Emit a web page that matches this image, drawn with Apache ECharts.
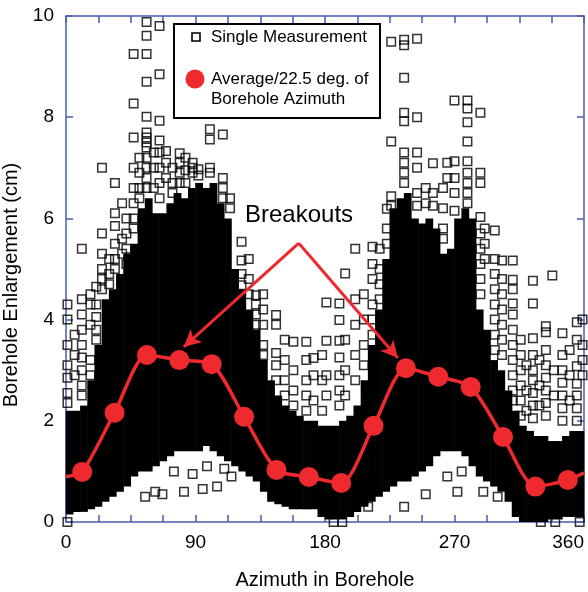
<!DOCTYPE html>
<html>
<head>
<meta charset="utf-8">
<script src="https://cdn.jsdelivr.net/npm/echarts@6/dist/echarts.min.js"></script>
<style>
html, body { margin: 0; padding: 0; background: #fff; }
#chart { width: 588px; height: 592px; }
</style>
</head>
<body>
<div id="chart"></div>
<script>
// dense part of the measurements, one column per 5 deg of azimuth
var columnAz = [2.5, 7.5, 12.5, 17.5, 22.5, 27.5, 32.5, 37.5, 42.5, 47.5,
  52.5, 57.5, 62.5, 67.5, 72.5, 77.5, 82.5, 87.5, 92.5, 97.5,
  102.5, 107.5, 112.5, 117.5, 122.5, 127.5, 132.5, 137.5, 142.5, 147.5,
  152.5, 157.5, 162.5, 167.5, 172.5, 177.5, 182.5, 187.5, 192.5, 197.5,
  202.5, 207.5, 212.5, 217.5, 222.5, 227.5, 232.5, 237.5, 242.5, 247.5,
  252.5, 257.5, 262.5, 267.5, 272.5, 277.5, 282.5, 287.5, 292.5, 297.5,
  302.5, 307.5, 312.5, 317.5, 322.5, 327.5, 332.5, 337.5, 342.5, 347.5,
  352.5, 357.5];
var bandLow = [0.15, 0.2, 0.2, 0.25, 0.3, 0.4, 0.5, 0.6, 0.7, 0.9,
  1.0, 1.0, 1.1, 1.2, 1.3, 1.4, 1.4, 1.4, 1.4, 1.5,
  1.4, 1.3, 1.2, 1.1, 1.0, 0.9, 0.8, 0.6, 0.4, 0.35,
  0.3, 0.25, 0.25, 0.25, 0.25, 0.1, 0.05, 0.05, 0.05, 0.1,
  0.2, 0.3, 0.4, 0.5, 0.6, 0.7, 0.8, 0.8, 0.9, 1.0,
  1.1, 1.3, 1.4, 1.4, 1.4, 1.3, 1.1, 0.9, 0.8, 0.7,
  0.6, 0.4, 0.1, 0.0, 0.0, 0.0, 0.0, 0.05, 0.05, 0.1,
  0.1, 0.1];
var bandHigh = [2.2, 2.2, 2.3, 2.8, 3.5, 4.4, 4.6, 4.9, 5.3, 5.5,
  6.2, 6.4, 6.1, 6.1, 6.3, 6.5, 6.4, 6.6, 6.7, 6.6,
  6.7, 6.3, 6.0, 5.0, 4.6, 4.2, 3.8, 3.2, 2.8, 2.5,
  2.3, 2.2, 2.1, 2.0, 2.0, 1.9, 1.9, 1.9, 2.0, 2.1,
  2.3, 2.8, 3.5, 4.2, 5.2, 6.2, 6.4, 6.5, 6.0, 5.9,
  6.0, 5.8, 5.3, 5.4, 6.0, 6.2, 6.0, 4.2, 3.8, 3.2,
  3.0, 2.6, 2.2, 1.9, 1.8, 1.7, 1.7, 1.6, 1.6, 1.7,
  1.8, 1.8];

// single measurements standing out of the dense part  [azimuth, enlargement]
var singleMeasurements = [
  [1, 4.3], [1, 4.0], [1, 3.5], [1, 3.1], [1, 2.85], [1, 2.55], [1, 2.35], [1, 0.0],
  [6, 3.7], [6, 3.3], [6, 2.9],
  [11, 5.4], [11, 4.4], [11, 4.1], [11, 3.8], [11, 3.5], [11, 3.25], [11, 3.0], [11, 2.7], [11, 2.5],
  [17, 4.5], [17, 4.3], [17, 3.9], [17, 3.2], [17, 2.9],
  [21, 4.65], [21, 4.3], [21, 4.05], [21, 3.8], [21, 3.6],
  [25, 7.0], [25, 5.7], [25, 5.3], [25, 5.0], [25, 4.8], [25, 4.6],
  [30, 5.2], [30, 4.9], [30, 4.7],
  [34, 6.7], [34, 6.1], [34, 5.85], [34, 5.5], [34, 5.2], [34, 5.0],
  [39, 6.3], [39, 5.6], [39, 5.3],
  [42, 6.0], [42, 5.7], [42, 5.4], [42, 5.1],
  [47, 9.25], [47, 8.27], [47, 7.6], [47, 7.0], [47, 6.6], [47, 6.3], [47, 6.0], [47, 5.8],
  [51, 7.2], [51, 6.9], [51, 6.6], [51, 6.4],
  [56, 9.88], [56, 9.61], [56, 9.25], [56, 8.7], [56, 8.01], [56, 7.7], [56, 7.6], [56, 7.5],
  [56, 7.4], [56, 7.2], [56, 7.0], [56, 6.8], [56, 6.6],
  [61, 7.3], [61, 7.0], [61, 6.6],
  [65, 9.8], [65, 8.85], [65, 7.93], [65, 7.54], [65, 7.3], [65, 7.0], [65, 6.7], [65, 6.4],
  [69.5, 7.33], [69.5, 7.1], [69.5, 6.8],
  [74, 7.0], [74, 6.7], [74, 6.5],
  [79, 7.29], [79, 7.1], [79, 6.9], [79, 6.7],
  [83, 7.2], [83, 6.95], [83, 6.7],
  [88, 7.1], [88, 7.0], [88, 6.9],
  [92, 6.97], [92, 6.85],
  [100, 7.76], [100, 7.56], [100, 7.0], [100, 6.9],
  [109, 7.66], [109, 6.8], [109, 6.6], [109, 6.4],
  [114, 6.4], [114, 6.2],
  [122, 5.54], [122, 5.17], [122, 4.9], [122, 4.68],
  [127, 5.2], [127, 4.8], [127, 4.5],
  [132, 4.48], [132, 4.3], [132, 4.1], [132, 3.9],
  [137, 4.5], [137, 4.2], [137, 3.9], [137, 3.5], [137, 3.3],
  [146, 4.09], [146, 3.9], [146, 3.34], [146, 3.1], [146, 2.8],
  [152, 3.6], [152, 3.2], [152, 2.8], [152, 2.5],
  [158, 3.56], [158, 3.0], [158, 2.6], [158, 2.3],
  [167, 3.56], [167, 3.2], [167, 2.8], [167, 2.5], [167, 2.2],
  [172, 3.24], [172, 2.9], [172, 2.4],
  [178, 3.3], [178, 2.8], [178, 2.2],
  [181, 4.34], [181, 3.58], [181, 2.9], [181, 2.5],
  [190, 4.32], [190, 3.99], [190, 3.58], [190, 3.25], [190, 2.9], [190, 2.6], [190, 2.3],
  [194, 4.91], [194, 3.6], [194, 3.0], [194, 2.5],
  [201, 5.4], [201, 4.4], [201, 3.9], [201, 3.3], [201, 2.8],
  [207, 4.5], [207, 4.0], [207, 3.5], [207, 3.1],
  [213, 5.44], [213, 5.1], [213, 4.8], [213, 4.3], [213, 4.0], [213, 3.7],
  [218, 5.4], [218, 5.0], [218, 4.7], [218, 4.4],
  [223, 6.19], [223, 5.8], [223, 5.5],
  [226, 9.49], [226, 7.52], [226, 6.44], [226, 6.25],
  [235, 9.53], [235, 9.42], [235, 8.78], [235, 8.09], [235, 7.92], [235, 7.3], [235, 7.1], [235, 6.9], [235, 6.7],
  [244, 9.55], [244, 8.0], [244, 7.3], [244, 7.0], [244, 6.5], [244, 6.25],
  [250, 6.6], [250, 6.3],
  [255, 7.09], [255, 6.5], [255, 6.25],
  [262, 6.6], [262, 6.2], [262, 5.8], [262, 5.6],
  [265, 7.1], [265, 6.8],
  [270, 8.33], [270, 7.13], [270, 6.8], [270, 6.5], [270, 6.15],
  [279, 8.33], [279, 8.17], [279, 7.9], [279, 7.52], [279, 7.13], [279, 6.9], [279, 6.7], [279, 6.5], [279, 6.3],
  [288, 8.09], [288, 6.9], [288, 6.7], [288, 6.03], [288, 5.7], [288, 5.4], [288, 5.1], [288, 4.8], [288, 4.5],
  [291, 5.8], [291, 5.5], [291, 5.2],
  [298, 5.76], [298, 5.2], [298, 4.9], [298, 4.6], [298, 4.3], [298, 4.0], [298, 3.7], [298, 3.4],
  [303, 5.17], [303, 4.8], [303, 4.5], [303, 4.2], [303, 3.9], [303, 3.6], [303, 3.3],
  [310.5, 5.17], [310.5, 4.79], [310.5, 4.6], [310.5, 4.32], [310.5, 4.1], [310.5, 3.8],
  [310.5, 3.5], [310.5, 3.2], [310.5, 2.9], [310.5, 2.6], [310.5, 2.4],
  [316, 3.6], [316, 3.3], [316, 3.0], [316, 2.7], [316, 2.4], [316, 2.1],
  [320, 3.1], [320, 2.6], [320, 2.2],
  [324.5, 4.77], [324.5, 4.32], [324.5, 3.63], [324.5, 3.3], [324.5, 3.0], [324.5, 2.8],
  [324.5, 2.55], [324.5, 2.3], [324.5, 2.05],
  [329, 3.2], [329, 2.7], [329, 2.3],
  [333.5, 3.87], [333.5, 3.75], [333.5, 3.4], [333.5, 3.1], [333.5, 2.85], [333.5, 2.6],
  [333.5, 2.35], [333.5, 2.1],
  [338, 4.87], [339, 3.0], [339, 2.5],
  [345, 3.73], [345, 3.3], [345, 3.0], [345, 2.75], [345, 2.5], [345, 2.25], [345, 2.0],
  [350, 3.4], [350, 2.9], [350, 2.4],
  [355, 3.95], [355, 3.6], [355, 3.08], [355, 2.73], [355, 2.5], [355, 2.25], [355, 2.0],
  [359, 4.0], [359, 3.5], [359, 3.2], [359, 2.9],
  // low ones
  [55, 0.5], [62, 0.6], [67, 0.55], [75, 1.0], [82, 0.6], [88, 0.95], [95, 0.65], [98, 1.1],
  [105, 0.7], [110, 1.05], [115, 0.9], [186, 0.0], [192, 0.0], [210, 0.3], [235, 0.3],
  [250, 0.55], [265, 0.9], [272, 0.6], [275, 1.0], [290, 0.6], [300, 0.5],
  [330, 0.0], [340, 0.0], [357, 0.0]
];

// average per 22.5 deg of borehole azimuth
var avgAz = [0, 11.25, 33.75, 56.25, 78.75, 101.25, 123.75, 146.25, 168.75,
  191.25, 213.75, 236.25, 258.75, 281.25, 303.75, 326.25, 348.75, 360];
var avgEnlargement = [0.9, 0.99, 2.16, 3.3, 3.2, 3.12, 2.08, 1.03, 0.89,
  0.77, 1.9, 3.04, 2.87, 2.67, 1.68, 0.7, 0.83, 0.97];

// "Breakouts" arrows: apex and the two tips
var breakoutApex = [161.8, 5.51];
var breakoutLeft = [81.9, 3.46];
var breakoutRight = [230.6, 3.24];

var blue = '#4a5bb0';
var red = '#ee2a2f';
var font = 'Liberation Sans, Arial, Helvetica, sans-serif';

var bandData = [];
for (var i = 0; i < columnAz.length; i++) {
  bandData.push([columnAz[i], bandLow[i], bandHigh[i]]);
}
var avgData = [];
for (var k = 0; k < avgAz.length; k++) {
  avgData.push([avgAz[k], avgEnlargement[k]]);
}

var chart = echarts.init(document.getElementById('chart'));

var frameX = {
  type: 'value', min: 0, max: 360, interval: 22.5,
  axisLine: { show: true, onZero: false, lineStyle: { color: blue, width: 1.5 } },
  axisTick: { show: true, inside: true, length: 7, lineStyle: { color: blue, width: 1.5 } },
  splitLine: { show: false }
};
var frameY = {
  type: 'value', min: 0, max: 10, interval: 2,
  axisLine: { show: true, onZero: false, lineStyle: { color: blue, width: 1.5 } },
  axisTick: { show: true, inside: true, length: 7, lineStyle: { color: blue, width: 1.5 } },
  splitLine: { show: false }
};

chart.setOption({
  backgroundColor: '#fff',
  animation: false,
  grid: { left: 66, right: 4, top: 16, bottom: 70, containLabel: false, outerBoundsMode: 'none' },
  xAxis: [
    Object.assign({}, frameX, {
      position: 'bottom',
      name: 'Azimuth in Borehole', nameLocation: 'middle', nameGap: 48,
      nameTextStyle: { fontSize: 20, color: '#000', fontFamily: font },
      axisLabel: {
        fontSize: 19, color: '#000', fontFamily: font, margin: 11, alignMaxLabel: 'right',
        formatter: function (v) { return v % 90 === 0 ? String(v) : ''; }
      }
    }),
    Object.assign({}, frameX, { position: 'top', axisLabel: { show: false } })
  ],
  yAxis: [
    Object.assign({}, frameY, {
      position: 'left',
      name: 'Borehole Enlargement (cm)', nameLocation: 'middle', nameGap: 38,
      nameTextStyle: { fontSize: 20, color: '#000', fontFamily: font, padding: [0, 32, 0, 0] },
      axisLabel: { fontSize: 19, color: '#000', fontFamily: font, margin: 12 }
    }),
    Object.assign({}, frameY, { position: 'right', axisLabel: { show: false } })
  ],
  series: [
    {
      name: 'dense',
      type: 'custom',
      z: 1,
      silent: true,
      data: bandData,
      renderItem: function (params, api) {
        var lo = api.coord([api.value(0) - 2.5, api.value(1)]);
        var hi = api.coord([api.value(0) + 2.5, api.value(2)]);
        return {
          type: 'rect',
          shape: { x: lo[0] - 0.3, y: hi[1], width: hi[0] - lo[0] + 0.6, height: lo[1] - hi[1] },
          style: { fill: '#000' }
        };
      }
    },
    {
      name: 'Single Measurement',
      type: 'scatter',
      z: 2,
      silent: true,
      clip: false,
      symbol: 'rect',
      symbolSize: 8.5,
      itemStyle: { color: 'transparent', borderColor: '#000', borderWidth: 1.5 },
      data: singleMeasurements
    },
    {
      name: 'Average',
      type: 'line',
      z: 3,
      silent: true,
      smooth: 0.25,
      symbol: 'circle',
      symbolSize: function (v) { return (v[0] === 0 || v[0] === 360) ? 0 : 20; },
      lineStyle: { color: red, width: 3.5 },
      itemStyle: { color: red },
      data: avgData,
      markLine: {
        silent: true,
        symbol: ['none', 'arrow'],
        symbolSize: [13, 17],
        label: { show: false },
        lineStyle: { color: red, width: 3, type: 'solid' },
        emphasis: { disabled: true },
        data: [
          [{ coord: breakoutApex }, { coord: breakoutLeft }],
          [{ coord: breakoutApex }, { coord: breakoutRight }]
        ]
      }
    }
  ],
  graphic: [
    {
      type: 'text', z: 50, left: 245, top: 203,
      style: { text: 'Breakouts', fontSize: 24, fontFamily: font, fill: '#000' }
    },
    {
      type: 'group', z: 100, left: 173, top: 23,
      children: [
        { type: 'rect', shape: { x: 0, y: 0, width: 206, height: 94 },
          style: { fill: '#fff', stroke: '#000', lineWidth: 2 } },
        { type: 'rect', shape: { x: 18, y: 9, width: 8, height: 8 },
          style: { fill: 'none', stroke: '#000', lineWidth: 1.6 } },
        { type: 'text', x: 37, y: 13, style: { text: 'Single Measurement', fontSize: 17,
          fontFamily: font, fill: '#000', verticalAlign: 'middle' } },
        { type: 'circle', shape: { cx: 21, cy: 55, r: 9.5 }, style: { fill: red } },
        { type: 'text', x: 37, y: 55, style: { text: 'Average/22.5 deg. of', fontSize: 17,
          fontFamily: font, fill: '#000', verticalAlign: 'middle' } },
        { type: 'text', x: 37, y: 75, style: { text: 'Borehole Azimuth', fontSize: 17,
          fontFamily: font, fill: '#000', verticalAlign: 'middle' } }
      ]
    }
  ]
});
</script>
</body>
</html>
